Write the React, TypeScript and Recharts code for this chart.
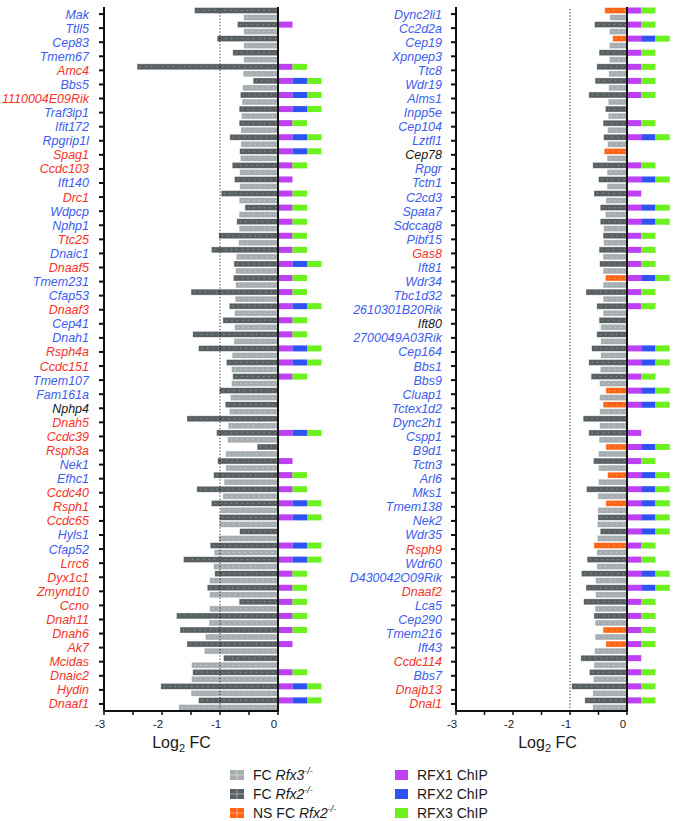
import React from 'react';
import { BarChart, Bar, XAxis, YAxis, ReferenceLine } from 'recharts';

// ---------- LEFT PANEL DATA ----------
const leftGenes = ['Mak', 'Ttll5', 'Cep83', 'Tmem67', 'Amc4', 'Bbs5', '1110004E09Rik', 'Traf3ip1', 'Ifit172', 'Rpgrip1l', 'Spag1', 'Ccdc103', 'Ift140', 'Drc1', 'Wdpcp', 'Nphp1', 'Ttc25', 'Dnaic1', 'Dnaaf5', 'Tmem231', 'Cfap53', 'Dnaaf3', 'Cep41', 'Dnah1', 'Rsph4a', 'Ccdc151', 'Tmem107', 'Fam161a', 'Nphp4', 'Dnah5', 'Ccdc39', 'Rsph3a', 'Nek1', 'Efhc1', 'Ccdc40', 'Rsph1', 'Ccdc65', 'Hyls1', 'Cfap52', 'Lrrc6', 'Dyx1c1', 'Zmynd10', 'Ccno', 'Dnah11', 'Dnah6', 'Ak7', 'Mcidas', 'Dnaic2', 'Hydin', 'Dnaaf1'];
const leftLabelClass = ['b', 'b', 'b', 'b', 'r', 'b', 'r', 'b', 'b', 'b', 'r', 'r', 'b', 'r', 'b', 'b', 'r', 'b', 'r', 'b', 'b', 'r', 'b', 'b', 'r', 'r', 'b', 'b', 'k', 'r', 'r', 'r', 'b', 'b', 'r', 'r', 'r', 'b', 'b', 'r', 'r', 'r', 'r', 'r', 'r', 'r', 'r', 'r', 'r', 'r'];
const leftRfx2 = [-1.44, -0.70, -1.05, -0.78, -2.43, -0.43, -0.65, -0.67, -0.67, -0.83, -0.66, -0.79, -0.75, -0.98, -0.57, -0.71, -1.02, -1.15, -0.76, -0.77, -1.50, -0.84, -0.95, -1.47, -1.37, -0.89, -0.78, -1.01, -0.91, -1.57, -1.06, -0.36, -1.04, -1.11, -1.40, -1.15, -1.01, -0.66, -1.17, -1.63, -1.09, -1.22, -0.67, -1.75, -1.69, -1.57, -0.94, -1.47, -2.02, -1.37];
const leftRfx3 = [-0.59, -0.59, -0.59, -0.59, -0.60, -0.61, -0.62, -0.63, -0.64, -0.64, -0.65, -0.66, -0.66, -0.67, -0.67, -0.67, -0.68, -0.72, -0.73, -0.73, -0.74, -0.75, -0.75, -0.76, -0.79, -0.80, -0.80, -0.82, -0.84, -0.86, -0.87, -0.90, -0.90, -0.93, -0.95, -0.99, -1.01, -1.02, -1.10, -1.11, -1.18, -1.18, -1.18, -1.19, -1.25, -1.27, -1.49, -1.49, -1.50, -1.71];
const leftNS: string[] = [];
const leftChip = ['', 'M', '', '', 'MG', 'MBG', 'MBG', 'MBG', 'MG', 'MBG', 'MBG', 'MG', 'M', 'MG', 'MG', 'MG', 'MG', 'MG', 'MBG', 'MG', 'MG', 'MBG', 'MG', 'MG', 'MBG', 'MBG', 'MG', '', '', '', 'MBG', '', 'M', 'MG', 'MG', 'MBG', 'MBG', '', 'MBG', 'MBG', 'MG', 'MG', 'MG', 'MG', 'MG', 'M', '', 'MG', 'MBG', 'MBG'];

// ---------- RIGHT PANEL DATA ----------
const rightGenes = ['Dync2li1', 'Cc2d2a', 'Cep19', 'Xpnpep3', 'Ttc8', 'Wdr19', 'Alms1', 'Inpp5e', 'Cep104', 'Lztfl1', 'Cep78', 'Rpgr', 'Tctn1', 'C2cd3', 'Spata7', 'Sdccag8', 'Pibf15', 'Gas8', 'Ift81', 'Wdr34', 'Tbc1d32', '2610301B20Rik', 'Ift80', '2700049A03Rik', 'Cep164', 'Bbs1', 'Bbs9', 'Cluap1', 'Tctex1d2', 'Dync2h1', 'Cspp1', 'B9d1', 'Tctn3', 'Arl6', 'Mks1', 'Tmem138', 'Nek2', 'Wdr35', 'Rsph9', 'Wdr60', 'D430042O09Rik', 'Dnaaf2', 'Lca5', 'Cep290', 'Tmem216', 'Ift43', 'Ccdc114', 'Bbs7', 'Dnajb13', 'Dnal1'];
const rightLabelClass = ['b', 'b', 'b', 'b', 'b', 'b', 'b', 'b', 'b', 'b', 'k', 'b', 'b', 'b', 'b', 'b', 'b', 'r', 'b', 'b', 'b', 'b', 'k', 'b', 'b', 'b', 'b', 'b', 'b', 'b', 'b', 'b', 'b', 'b', 'b', 'b', 'b', 'b', 'r', 'b', 'b', 'r', 'b', 'b', 'b', 'b', 'r', 'b', 'r', 'r'];
const rightRfx2 = [-0.39, -0.57, -0.25, -0.49, -0.53, -0.56, -0.67, -0.38, -0.42, -0.41, -0.40, -0.60, -0.50, -0.58, -0.47, -0.47, -0.42, -0.49, -0.48, -0.38, -0.72, -0.53, -0.49, -0.53, -0.62, -0.67, -0.63, -0.37, -0.42, -0.77, -0.67, -0.37, -0.59, -0.34, -0.71, -0.37, -0.51, -0.47, -0.58, -0.70, -0.80, -0.72, -0.76, -0.58, -0.42, -0.37, -0.81, -0.66, -0.97, -0.74];
const rightRfx3 = [-0.30, -0.31, -0.31, -0.31, -0.32, -0.32, -0.33, -0.33, -0.34, -0.34, -0.35, -0.35, -0.35, -0.37, -0.38, -0.41, -0.41, -0.42, -0.42, -0.42, -0.42, -0.42, -0.46, -0.46, -0.46, -0.47, -0.48, -0.48, -0.48, -0.48, -0.49, -0.50, -0.50, -0.50, -0.51, -0.51, -0.52, -0.52, -0.53, -0.53, -0.55, -0.55, -0.56, -0.56, -0.56, -0.57, -0.58, -0.59, -0.60, -0.60];
const rightNS = ['Dync2li1', 'Cep19', 'Cep78', 'Wdr34', 'Cluap1', 'Tctex1d2', 'B9d1', 'Arl6', 'Tmem138', 'Rsph9', 'Tmem216', 'Ift43'];
const rightChip = ['MG', 'MG', 'MBG', 'MG', 'MG', 'MG', 'MG', '', 'MG', 'MBG', '', 'MG', 'MBG', 'M', 'MBG', 'MBG', 'MG', 'MG', 'MG', 'MBG', 'MG', 'MG', '', '', 'MBG', 'MBG', 'MG', 'MBG', 'MBG', '', 'M', 'MBG', 'MG', 'MBG', 'MBG', 'MBG', 'MBG', 'MBG', 'MG', 'MG', 'MBG', 'MBG', 'MG', 'MG', 'MG', 'MG', 'M', 'MG', 'MG', 'MG'];

const xTicks = [-3, -2.5, -2, -1.5, -1, -0.5, 0];

// ---------- STYLE ----------
const FONT = '"Liberation Sans", Arial, Helvetica, sans-serif';
const DARK = '#596063';
const LIGHT = '#a6adb1';
const ORANGE = '#ff6414';
const MAGENTA = '#bf40f2';
const BLUE = '#2f52f2';
const GREEN = '#6cf01e';
const LABEL_COLORS: Record<string, string> = { b: '#3d5cf0', r: '#f53328', k: '#161616' };
const CHIP_W = 0.25;

type Row = { gene: string; rfx2: number; rfx3: number; ns: boolean; c1: number; c2: number; c3: number };

function buildData(genes: string[], rfx2: number[], rfx3: number[], ns: string[], chip: string[]): Row[] {
  return genes.map((g, i) => ({
    gene: g,
    rfx2: rfx2[i],
    rfx3: rfx3[i],
    ns: ns.includes(g),
    c1: chip[i].includes('M') ? CHIP_W : 0,
    c2: chip[i].includes('B') ? CHIP_W : 0,
    c3: chip[i].includes('G') ? CHIP_W : 0,
  }));
}

const TexturedBar = (props: any) => {
  const { x, y, width, height, payload, kind } = props;
  const x0 = Math.min(x, x + width);
  const w = Math.abs(width);
  if (!w || !height) return <g />;
  let fill = LIGHT;
  let dot = '#d3d8db';
  if (kind === 'rfx2') {
    if (payload && payload.ns) {
      fill = ORANGE;
      dot = '#ffb27f';
    } else {
      fill = DARK;
      dot = '#9ca3a6';
    }
  }
  const cy = y + height / 2;
  return (
    <g>
      <rect x={x0} y={y} width={w} height={height} fill={fill} stroke="#ffffff" strokeOpacity={0.7} strokeWidth={0.6} />
      {w > 4 && (
        <line x1={x0 + 3} x2={x0 + w - 1} y1={cy} y2={cy} stroke={dot} strokeWidth={1} strokeDasharray="1 4.5" />
      )}
    </g>
  );
};

const ChipBar = (props: any) => {
  const { x, y, width, height, fill } = props;
  const x0 = Math.min(x, x + width);
  const w = Math.abs(width);
  if (!w || !height) return <g />;
  return <rect x={x0} y={y} width={w} height={height} fill={fill} />;
};

type PanelProps = {
  genes: string[];
  labelClass: string[];
  rfx2: number[];
  rfx3: number[];
  ns: string[];
  chip: string[];
  left: number;
  yAxisWidth: number;
  tickMargin: number;
  pxPerUnit: number;
  xMax: number;
};

const H = 760;
const M_TOP = 7;
const M_BOTTOM = 19;
const X_AXIS_H = 30;

function Panel(p: PanelProps) {
  const data = buildData(p.genes, p.rfx2, p.rfx3, p.ns, p.chip);
  const plotW = (p.xMax + 3) * p.pxPerUnit;
  const width = p.yAxisWidth + plotW;
  const axisDash = `${3 * p.pxPerUnit + 1} 3000`;
  const geneColor: Record<string, string> = {};
  p.genes.forEach((g, i) => (geneColor[g] = LABEL_COLORS[p.labelClass[i]]));

  return (
    <div style={{ position: 'absolute', left: p.left, top: 0 }}>
      <BarChart
        width={width}
        height={H}
        data={data}
        layout="vertical"
        stackOffset="sign"
        barCategoryGap={0.5}
        barGap={1}
        margin={{ top: M_TOP, right: 0, bottom: M_BOTTOM, left: 0 }}
      >
        <XAxis
          type="number"
          domain={[-3, p.xMax]}
          allowDataOverflow
          ticks={xTicks}
          height={X_AXIS_H}
          tickSize={4}
          tickMargin={2}
          axisLine={{ stroke: '#111', strokeWidth: 2, strokeDasharray: axisDash }}
          tickLine={{ stroke: '#111', strokeWidth: 1.5 }}
          tick={(t: any) =>
            Number.isInteger(t.payload.value) ? (
              <text x={t.x - 4} y={t.y + 11} textAnchor="middle" fontSize={11.5} fontFamily={FONT} fill="#222">
                {String(t.payload.value)}
              </text>
            ) : (
              <g />
            )
          }
        />
        <YAxis
          type="category"
          dataKey="gene"
          width={p.yAxisWidth}
          interval={0}
          tickSize={5}
          tickMargin={p.tickMargin}
          axisLine={{ stroke: '#111', strokeWidth: 2 }}
          tickLine={{ stroke: '#111', strokeWidth: 2 }}
          tick={(t: any) => (
            <text
              x={t.x}
              y={t.y}
              dy="0.36em"
              textAnchor="end"
              fontStyle="italic"
              fontSize={12.5}
              fontFamily={FONT}
              fill={geneColor[t.payload.value]}
            >
              {t.payload.value}
            </text>
          )}
        />
        <ReferenceLine x={-1} stroke="#222" strokeWidth={1} strokeDasharray="1.2 2" />
        <Bar dataKey="rfx2" stackId="a" isAnimationActive={false} fill={DARK} shape={(s: any) => <TexturedBar {...s} kind="rfx2" />} />
        <Bar dataKey="c1" stackId="a" isAnimationActive={false} fill={MAGENTA} shape={(s: any) => <ChipBar {...s} fill={MAGENTA} />} />
        <Bar dataKey="c2" stackId="a" isAnimationActive={false} fill={BLUE} shape={(s: any) => <ChipBar {...s} fill={BLUE} />} />
        <Bar dataKey="c3" stackId="a" isAnimationActive={false} fill={GREEN} shape={(s: any) => <ChipBar {...s} fill={GREEN} />} />
        <Bar dataKey="rfx3" stackId="b" isAnimationActive={false} fill={LIGHT} shape={(s: any) => <TexturedBar {...s} kind="rfx3" />} />
        <ReferenceLine x={0} stroke="#111" strokeWidth={2} />
      </BarChart>
    </div>
  );
}

const legendLeft = [
  { fill: LIGHT, pre: 'FC ', gene: 'Rfx3', textured: true },
  { fill: DARK, pre: 'FC ', gene: 'Rfx2', textured: true },
  { fill: ORANGE, pre: 'NS FC ', gene: 'Rfx2', textured: true },
];
const legendRight = [
  { fill: MAGENTA, label: 'RFX1 ChIP' },
  { fill: BLUE, label: 'RFX2 ChIP' },
  { fill: GREEN, label: 'RFX3 ChIP' },
];
const legendRowsY = [775, 794, 813];

function Overlay() {
  return (
    <svg
      width={673}
      height={821}
      style={{ position: 'absolute', left: 0, top: 0, pointerEvents: 'none' }}
      fontFamily={FONT}
    >
      <text x={181.5} y={748} textAnchor="middle" fontSize={16} fill="#1a1a1a">
        Log<tspan fontSize={11} dy={4}>2</tspan>
        <tspan dy={-4}> FC</tspan>
      </text>
      <text x={547.5} y={748} textAnchor="middle" fontSize={16} fill="#1a1a1a">
        Log<tspan fontSize={11} dy={4}>2</tspan>
        <tspan dy={-4}> FC</tspan>
      </text>
      {legendLeft.map((l, i) => {
        const cy = legendRowsY[i];
        return (
          <g key={'ll' + i}>
            <rect x={230} y={cy - 5} width={14} height={10} fill={l.fill} />
            <line x1={230} x2={244} y1={cy} y2={cy} stroke="#ffffff" strokeOpacity={0.55} strokeWidth={0.8} />
            <line x1={237} x2={237} y1={cy - 5} y2={cy + 5} stroke="#ffffff" strokeOpacity={0.55} strokeWidth={0.8} />
            <text x={253} y={cy + 5} fontSize={14} fill="#1a1a1a">
              {l.pre}
              <tspan fontStyle="italic">{l.gene}</tspan>
              <tspan fontSize={9} fontStyle="italic" dy={-6}>
                -/-
              </tspan>
            </text>
          </g>
        );
      })}
      {legendRight.map((l, i) => {
        const cy = legendRowsY[i];
        return (
          <g key={'lr' + i}>
            <rect x={395} y={cy - 5} width={13} height={10} fill={l.fill} />
            <text x={417} y={cy + 5} fontSize={14} fill="#1a1a1a">
              {l.label}
            </text>
          </g>
        );
      })}
    </svg>
  );
}

export default function App() {
  return (
    <div
      style={{
        position: 'absolute',
        left: 0,
        top: 0,
        width: 673,
        height: 821,
        overflow: 'hidden',
        background: '#ffffff',
        fontFamily: FONT,
      }}
    >
      <Panel
        genes={leftGenes}
        labelClass={leftLabelClass}
        rfx2={leftRfx2}
        rfx3={leftRfx3}
        ns={leftNS}
        chip={leftChip}
        left={0}
        yAxisWidth={104}
        tickMargin={10}
        pxPerUnit={58}
        xMax={0.8}
      />
      <Panel
        genes={rightGenes}
        labelClass={rightLabelClass}
        rfx2={rightRfx2}
        rfx3={rightRfx3}
        ns={rightNS}
        chip={rightChip}
        left={340}
        yAxisWidth={116}
        tickMargin={9}
        pxPerUnit={57}
        xMax={0.78}
      />
      <Overlay />
    </div>
  );
}
